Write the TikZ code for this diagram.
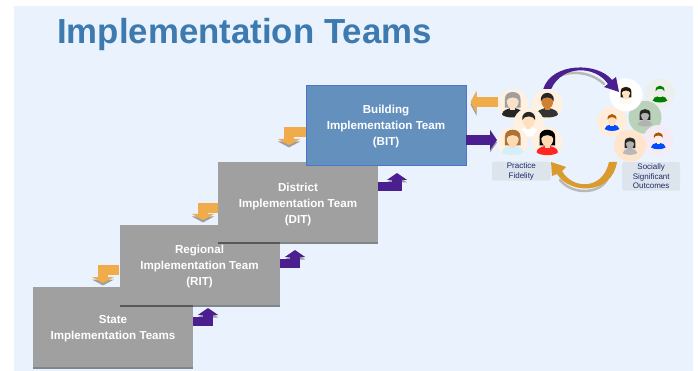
\documentclass[tikz,border=0pt]{standalone}
\usepackage{fontspec}
\setmainfont{Liberation Sans}
\usetikzlibrary{arrows.meta,shadows}
\definecolor{panelblue}{HTML}{EAF3FD}
\definecolor{titleblue}{HTML}{3D7AB0}
\definecolor{boxgray}{HTML}{A0A0A0}
\definecolor{boxblue}{HTML}{6490BE}
\definecolor{flowpurple}{HTML}{4B1F8F}
\definecolor{floworange}{HTML}{F0AB4A}
\definecolor{curveorange}{HTML}{D99B2E}
\definecolor{labelgray}{HTML}{DEE4EC}
\definecolor{labelnavy}{HTML}{1A2A6C}
\tikzset{
  teambox/.style={minimum width=160pt,minimum height=80pt,inner sep=0pt,
    drop shadow={shadow xshift=0pt,shadow yshift=-1.5pt,fill=black,opacity=0.45}},
  teamtext/.style={inner sep=0pt,align=center,yshift=-2pt,
    text=white,font=\fontsize{11.6}{16}\selectfont\bfseries},
  flowshadow/.style={preaction={draw=gray!75,transform canvas={yshift=-2.5pt}}},
  purpleflow/.style={flowshadow,draw=flowpurple,line width=9.5pt,
    -{Triangle[width=20pt,length=7pt]}},
  orangeflow/.style={flowshadow,draw=floworange,line width=10pt,
    -{Triangle[width=22pt,length=6pt]}},
  curveshadow/.style={draw=gray!55,line width=2.5pt,line cap=round},
  grouplabel/.style={fill=labelgray,rounded corners=2pt,inner sep=0pt,align=center,
    text=labelnavy,font=\fontsize{8}{9.6}\selectfont},
  facedisc/.style={circle,inner sep=0pt},
}
% name, position, diameter, disc, skin, hair, shirt, long hair, figure scale
\newcommand{\person}[9]{
  \node[facedisc,minimum size=#3pt,fill=#4] (#1) at (#2) {};
  \begin{scope}
    \clip (#2) circle ({#3/2*1pt});
    \begin{scope}[shift={(#2)},scale=#9,yshift=1pt]
      \path[fill=#8] (-6.5,-3) .. controls (-7,-11) and (7,-11) .. (6.5,-3) -- (6.5,4) -- (-6.5,4) -- cycle;
      \fill[#7] (-9,10) .. controls (-8.5,6) and (-5,5.5) .. (-2,4.5) -- (2,4.5)
        .. controls (5,5.5) and (8.5,6) .. (9,10) .. controls (5,13) and (-5,13) .. cycle;
      \fill[#5] (-2,1) rectangle (2,6);
      \fill[#5] (0,-1.5) ellipse (5pt and 6.5pt);
      \fill[#6] (-5.4,-1.5) .. controls (-6.5,-10.5) and (6.5,-10.5) .. (5.4,-1.5)
        .. controls (4,-5.5) and (-4,-5.5) .. cycle;
    \end{scope}
  \end{scope}
}
\begin{document}
\begin{tikzpicture}[x=1pt,y=-1pt]
\useasboundingbox (0,0) rectangle (698,371);
% Panel
\fill[panelblue] (14,6) rectangle (692.5,371);

% Title
\node[anchor=base west,inner sep=0pt,text=titleblue,font=\fontsize{34.8}{36}\selectfont\bfseries] (title) at (57,43.5) {Implementation Teams};

% Team boxes
\node[teambox,fill=boxgray,label={[teamtext]center:{State\\Implementation Teams}}] (state) at (113,327) {};
\node[teambox,fill=boxgray,label={[teamtext]center:{Regional\\Implementation Team\\(RIT)}}] (regional) at (199.5,265) {};
\node[teambox,fill=boxgray,label={[teamtext]center:{District\\Implementation Team\\(DIT)}}] (district) at (298,202.5) {};
\node[teambox,fill=boxblue,draw=boxblue!80!blue,label={[teamtext]center:{Building\\Implementation Team\\(BIT)}}] (building) at (386,125) {};

% Arrow ends
\coordinate (stateup) at (208,308);
\coordinate (regionalup) at (295,250);
\coordinate (districtup) at (397,173);
\coordinate (regionaldown) at (103,283);
\coordinate (districtdown) at (203,220);
\coordinate (buildingdown) at (289,145);
\coordinate (fidelityin) at (497,140);
\coordinate (fidelityout) at (470.5,102);

% Arrows up the steps
\draw[purpleflow] ([yshift=5.5pt]state.east) -| (stateup);
\draw[purpleflow] ([yshift=1.5pt]regional.east) -| (regionalup);
\draw[purpleflow] ([yshift=16pt]district.east) -| (districtup);

% Arrows down the steps
\draw[orangeflow] ([yshift=-5pt]regional.west) -| (regionaldown);
\draw[orangeflow] ([yshift=-5.5pt]district.west) -| (districtdown);
\draw[orangeflow] ([yshift=-7pt]building.west) -| (buildingdown);

% Practice group
\person{grayhair}{512.7,104}{30}{orange!12}{black!8!orange!22}{gray!75}{black!85}{gray!75}{1.2}
\person{suitman}{547.3,104}{30}{orange!12}{brown!75!orange}{black!85}{black!80}{none}{1.2}
\person{whiteshirt}{528.7,123}{30}{orange!12}{orange!25}{black!85}{white}{none}{1.2}
\person{brownhair}{512.7,141.7}{30}{orange!12}{orange!30}{brown!90!black}{cyan!18}{brown!90!black}{1.2}
\person{redtop}{547.3,141.7}{30}{orange!12}{orange!30}{black}{red!85}{black}{1.2}

% Straight arrows to the practice group
\draw[purpleflow] (building.east |- fidelityin) -- (fidelityin);
\draw[orangeflow] ([yshift=2pt]grayhair.west) -- (fidelityout);

% Outcomes group
\person{greenman}{660,93.3}{30}{green!8!gray!14}{green!5!gray!15}{green!50!black}{green!50!black}{none}{0.82}
\person{redboy}{612,121.7}{30}{orange!15}{orange!25}{orange!70!black}{blue!70!cyan}{none}{0.82}
\person{sagegirl}{645,117.3}{33}{green!20!gray!45}{gray!60}{black!85}{gray!60}{black!85}{0.82}
\person{lilacboy}{658.3,140}{30}{violet!8}{red!5!orange!12}{orange!65!black}{blue!70!cyan}{none}{0.82}
\person{tangirl}{630,145.7}{32}{orange!20}{gray!60}{black!85}{gray!55}{black!85}{0.82}
\person{whitegirl}{626,95}{33}{white}{orange!22}{black!80!brown}{orange!5}{black!80!brown}{0.82}

% Curved arrows between the groups
\draw[curveshadow] (560,76) .. controls (570,71) and (590,71) .. (604,84);
\fill[flowpurple] ([xshift=-4pt]suitman.north) .. controls (552,62) and (598,62) .. (612,80)
  -- (616,77) -- (619,92) -- (604,87) -- (608,84) .. controls (595,65) and (562,65) .. ([xshift=4pt]suitman.north) -- cycle;
\draw[curveshadow] (608,178) .. controls (600,195) and (572,195) .. (560,180);
\fill[curveorange] ([xshift=-13pt]tangirl.south) .. controls (612,195) and (570,195) .. (557,174)
  -- (552,176) -- (551,162) -- (566,167) -- (562,171) .. controls (573,190) and (603,190) .. ([xshift=-21pt]tangirl.south) -- cycle;

% Group labels
\node[grouplabel,minimum width=58.5pt,minimum height=19pt] (fidelity) at (521.3,171.2) {Practice\\Fidelity};
\node[grouplabel,minimum width=58pt,minimum height=28.5pt] (outcomes) at (651.2,176.5) {Socially\\Significant\\Outcomes};
\end{tikzpicture}
\end{document}
